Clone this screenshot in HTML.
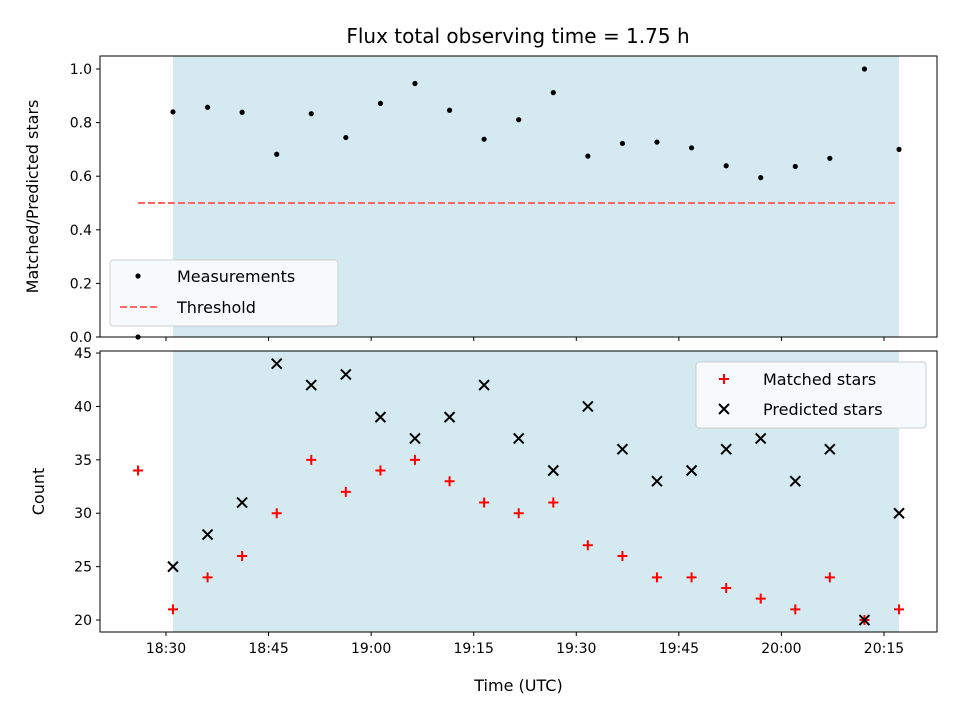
<!DOCTYPE html>
<html><head><meta charset="utf-8"><style>body{margin:0;background:#fff}svg text{font-family:"DejaVu Sans","Liberation Sans",sans-serif;fill:#000}</style></head>
<body>
<svg id="chart" width="960" height="720" xmlns="http://www.w3.org/2000/svg"></svg>
<script>
// minutes after 18:00
const timesMatched = [25.91,31.02,36.08,41.13,46.19,51.24,56.30,61.36,66.41,71.47,76.52,81.58,86.64,91.69,96.75,101.80,106.86,111.92,116.97,122.03,127.08,132.14,137.20];
const matchedStars = [34,21,24,26,30,35,32,34,35,33,31,30,31,27,26,24,24,23,22,21,24,20,21];
const predictedStars = [null,25,28,31,44,42,43,39,37,39,42,37,34,40,36,33,34,36,37,33,36,20,30];
const thresholdValue = 0.5;
const xTickValues = [30,45,60,75,90,105,120,135];
const xTickLabels = ["18:30","18:45","19:00","19:15","19:30","19:45","20:00","20:15"];
const topTicks = [0,0.2,0.4,0.6,0.8,1.0];
const topTickLabels = ["0.0","0.2","0.4","0.6","0.8","1.0"];
const botTicks = [20,25,30,35,40,45];

const NS="http://www.w3.org/2000/svg";
const svg=document.getElementById('chart');
const L=100,R=937;
const T1=56,B1=337,T2=351,B2=632;
const x=m=>166+(m-30)*6.838;
const y1=v=>337-v*268;
const y2=v=>632-(v-18.88)*10.68;
function mk(tag,attrs,parent){const e=document.createElementNS(NS,tag);for(const k in attrs)e.setAttribute(k,attrs[k]);(parent||svg).appendChild(e);return e;}
function txt(s,attrs){const e=mk('text',attrs);e.textContent=s;return e;}

const ratio=matchedStars.map((m,i)=>predictedStars[i]?m/predictedStars[i]:0);
const pIdx=predictedStars.map((p,i)=>p!==null?i:-1).filter(i=>i>=0);
const spanStart=timesMatched[pIdx[0]], spanEnd=timesMatched[pIdx[pIdx.length-1]];

let t=txt("Flux total observing time = 1.75 h",{x:518,y:43,'font-size':'20','text-anchor':'middle'});


let s1=mk('rect',{x:x(spanStart),y:T1,width:x(spanEnd)-x(spanStart),height:B1-T1,fill:'#d4eaf0'});

let s2=mk('rect',{x:x(spanStart),y:T2,width:x(spanEnd)-x(spanStart),height:B2-T2,fill:'#d4eaf0'});


let th=mk('line',{x1:x(timesMatched[0]),x2:x(spanEnd)-3,y1:y1(thresholdValue),y2:y1(thresholdValue),stroke:'#ff6666',
 'stroke-width':2,'stroke-dasharray':'7,3'});


ratio.forEach((v,i)=>{const c=mk('circle',{cx:x(timesMatched[i]),cy:y1(v),r:2.6,fill:'#000'});
});

matchedStars.forEach((v,i)=>{const cx=x(timesMatched[i]),cy=y2(v);
const p=mk('path',{d:`M${cx-5},${cy}H${cx+5}M${cx},${cy-5}V${cy+5}`,stroke:'#f00','stroke-width':2});
});
predictedStars.forEach((v,i)=>{if(v===null)return;const cx=x(timesMatched[i]),cy=y2(v);
const p=mk('path',{d:`M${cx-5},${cy-5}L${cx+5},${cy+5}M${cx-5},${cy+5}L${cx+5},${cy-5}`,stroke:'#000','stroke-width':2});
});

let f1=mk('rect',{x:L,y:T1,width:R-L,height:B1-T1,fill:'none',stroke:'#000','stroke-width':1});

let f2=mk('rect',{x:L,y:T2,width:R-L,height:B2-T2,fill:'none',stroke:'#000','stroke-width':1});


topTicks.forEach((v,i)=>{mk('line',{x1:L-4,x2:L,y1:y1(v),y2:y1(v),stroke:'#000'});
const e=txt(topTickLabels[i],{x:L-8,y:y1(v)+5,'font-size':'14','text-anchor':'end'});
});
botTicks.forEach(v=>{mk('line',{x1:L-4,x2:L,y1:y2(v),y2:y2(v),stroke:'#000'});
const e=txt(String(v),{x:L-8,y:y2(v)+5,'font-size':'14','text-anchor':'end'});
});
xTickValues.forEach((v,i)=>{const xx=x(v);if(xx>R)return;
mk('line',{x1:xx,x2:xx,y1:B1,y2:B1+4,stroke:'#000'});
mk('line',{x1:xx,x2:xx,y1:B2,y2:B2+4,stroke:'#000'});
const e=txt(xTickLabels[i],{x:xx,y:B2+21,'font-size':'14','text-anchor':'middle'});
});

let a=txt("Matched/Predicted stars",{x:0,y:0,'font-size':'16','text-anchor':'middle',transform:`translate(38,${(T1+B1)/2}) rotate(-90)`});

a=txt("Count",{x:0,y:0,'font-size':'16','text-anchor':'middle',transform:`translate(44,${(T2+B2)/2}) rotate(-90)`});

a=txt("Time (UTC)",{x:(L+R)/2,y:691,'font-size':'16','text-anchor':'middle'});


let lg=mk('g',{});
mk('rect',{x:110,y:260,width:228,height:66,rx:3,fill:'#f6fafc',stroke:'#ccc'},lg);
mk('circle',{cx:138,cy:276,r:2.6,fill:'#000'},lg);
let lt=mk('text',{x:177,y:282,'font-size':'16'},lg);lt.textContent='Measurements';
mk('line',{x1:120,x2:158,y1:307,y2:307,stroke:'#ff6666','stroke-width':2,'stroke-dasharray':'7,3'},lg);
lt=mk('text',{x:177,y:313,'font-size':'16'},lg);lt.textContent='Threshold';

lg=mk('g',{});
mk('rect',{x:696,y:362,width:230,height:66,rx:3,fill:'#f6fafc',stroke:'#ccc'},lg);
mk('path',{d:'M719,379H729M724,374V384',stroke:'#f00','stroke-width':2},lg);
lt=mk('text',{x:763,y:385,'font-size':'16'},lg);lt.textContent='Matched stars';
mk('path',{d:'M719,404L729,414M719,414L729,404',stroke:'#000','stroke-width':2},lg);
lt=mk('text',{x:763,y:415,'font-size':'16'},lg);lt.textContent='Predicted stars';
</script>
</body></html>
